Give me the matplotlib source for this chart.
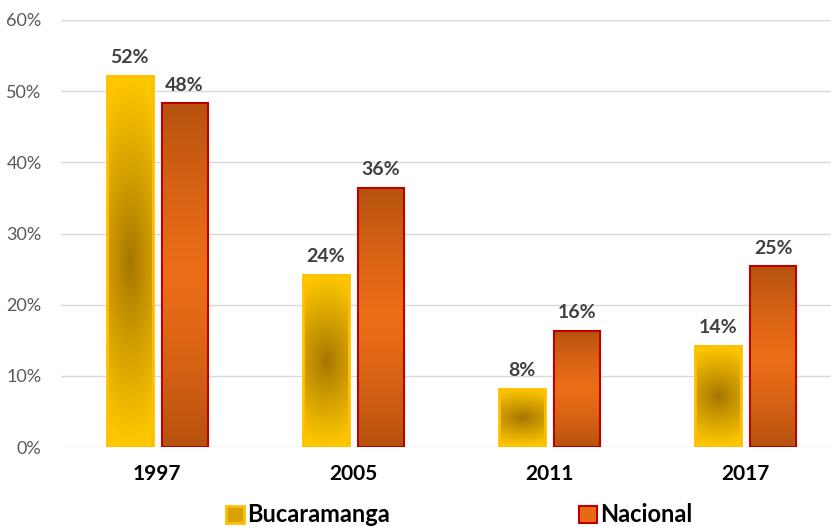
import numpy as np
import matplotlib
matplotlib.use('Agg')
import matplotlib.pyplot as plt
from matplotlib.patches import Patch
from matplotlib.colors import to_rgb

years = ['1997', '2005', '2011', '2017']
bucaramanga = [52.2, 24.2, 8.2, 14.2]
nacional = [48.3, 36.4, 16.3, 25.4]

plt.rcParams['font.family'] = ['Lato', 'DejaVu Sans']

fig = plt.figure(figsize=(8.31, 5.27), dpi=100)
ax = fig.add_axes([61 / 831, 1 - 447 / 527, 1 - 61 / 831, (447 - 20) / 527])

w = 0.235
off = 0.14


def grad_bucaramanga(h):
    ny, nx = 200, 60
    yy, xx = np.mgrid[-1:1:ny * 1j, -1:1:nx * 1j]
    r = np.clip(np.sqrt((0.45 * xx) ** 2 + yy ** 2), 0, 1)
    dark = np.array(to_rgb('#A57400'))
    light = np.array(to_rgb('#FFC800'))
    t = r[..., None] ** 0.9
    return dark * (1 - t) + light * t


def grad_nacional(h):
    ny = 200
    yy = np.abs(np.linspace(-1, 1, ny))[:, None, None] * np.ones((1, 2, 1))
    mid = np.array(to_rgb('#EC6D18'))
    edge = np.array(to_rgb('#B6520F'))
    t = np.clip(yy, 0, 1) ** 1.3
    return mid * (1 - t) + edge * t


for i in range(len(years)):
    x0 = i - off - w / 2
    h = bucaramanga[i]
    ax.imshow(grad_bucaramanga(h), extent=(x0, x0 + w, 0, h), aspect='auto',
              interpolation='bilinear', zorder=2)
    ax.add_patch(plt.Rectangle((x0, 0), w, h, fill=False, ec='#FFC000', lw=2, zorder=3))
    ax.annotate(f'{round(h):.0f}%', (i - off, h), xytext=(0, 7), textcoords='offset points',
                ha='center', va='bottom', fontsize=14, fontweight='bold', color='#404040')

    x1 = i + off - w / 2
    h = nacional[i]
    ax.imshow(grad_nacional(h), extent=(x1, x1 + w, 0, h), aspect='auto',
              interpolation='bilinear', zorder=2)
    ax.add_patch(plt.Rectangle((x1, 0), w, h, fill=False, ec='#C00000', lw=1.5, zorder=3))
    ax.annotate(f'{round(h):.0f}%', (i + off, h), xytext=(0, 7), textcoords='offset points',
                ha='center', va='bottom', fontsize=14, fontweight='bold', color='#404040')

ax.set_xlim(-0.49, 3.434)
ax.set_ylim(0, 60)
ax.set_yticks(range(0, 61, 10))
ax.set_yticklabels([f'{v}%' for v in range(0, 61, 10)], fontsize=13, color='#595959')
ax.set_xticks(range(len(years)))
ax.set_xticklabels(years, fontsize=15, fontweight='bold', color='#000000')
ax.tick_params(length=0)
ax.tick_params(axis='y', pad=14)
ax.tick_params(axis='x', pad=12)
ax.grid(axis='y', color='#D9D9D9', lw=1, zorder=0)
ax.set_axisbelow(True)
for s in ax.spines.values():
    s.set_visible(False)

handles = [Patch(facecolor='#D9A200', edgecolor='#FFC000', lw=2, label='Bucaramanga'),
           Patch(facecolor='#E66A15', edgecolor='#C00000', lw=1.5, label='Nacional')]
fig.legend(handles=handles, loc='center', bbox_to_anchor=(0.553, 1 - 515 / 527), ncol=2,
           frameon=False, prop={'size': 17, 'weight': 'bold'}, columnspacing=8.0,
           handlelength=0.75, handleheight=0.75, handletextpad=0.15)

fig.savefig('out.png', dpi=100)
